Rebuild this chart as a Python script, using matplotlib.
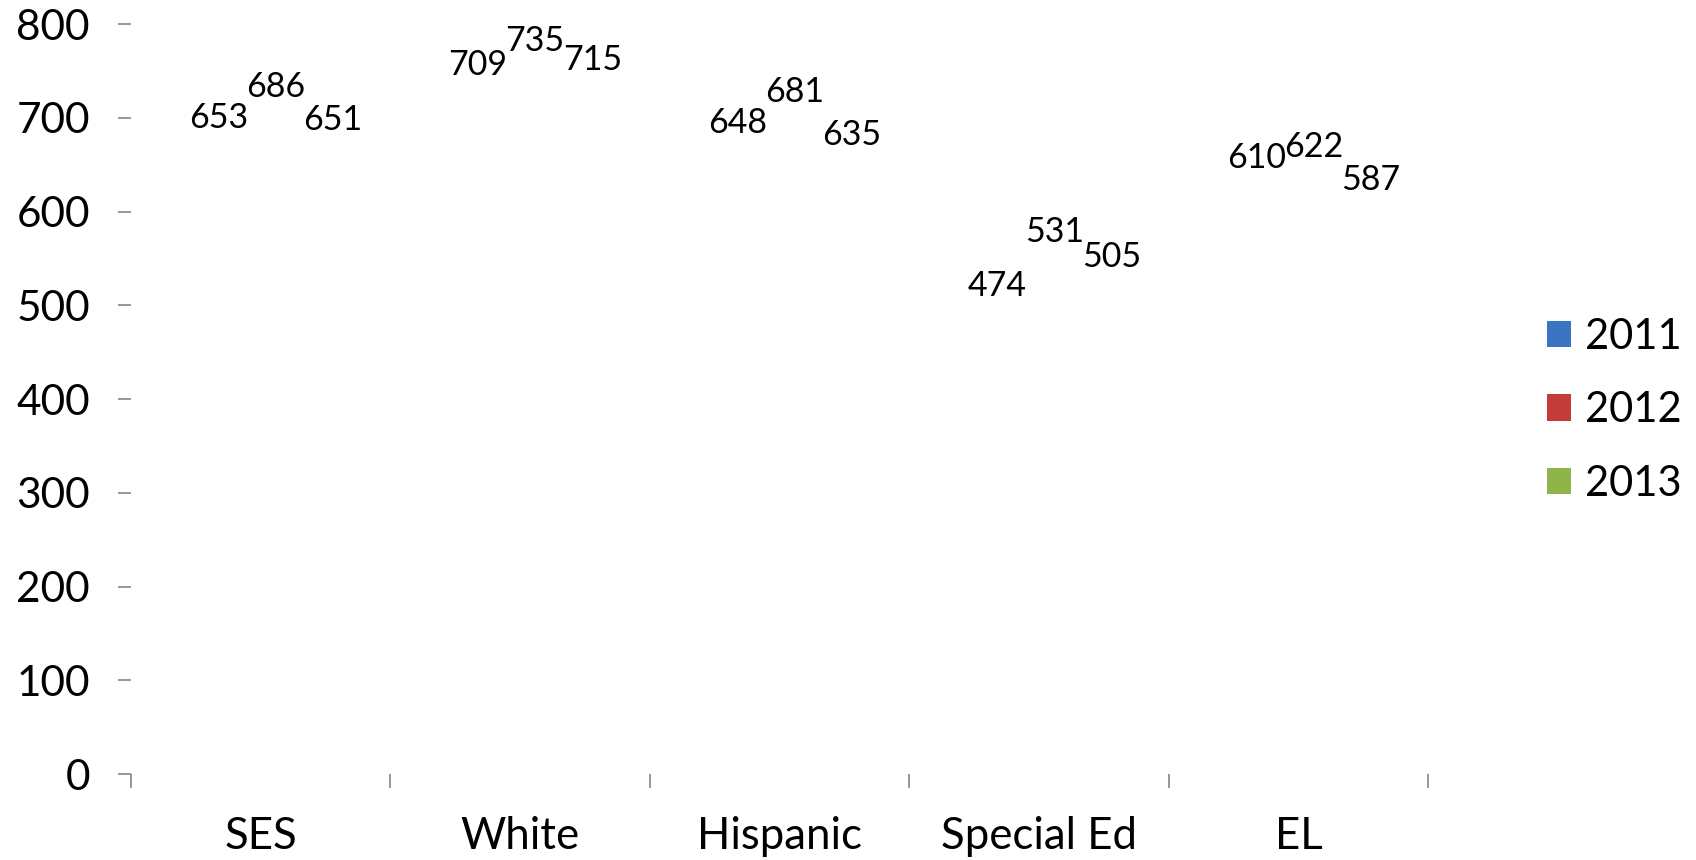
import matplotlib.pyplot as plt
import numpy as np
from matplotlib.patches import Patch

plt.rcParams['font.family'] = ['Lato', 'DejaVu Sans']

categories = ['SES', 'White', 'Hispanic', 'Special Ed', 'EL']
years = ['2011', '2012', '2013']
scores_2011 = [653, 709, 648, 474, 610]
scores_2012 = [686, 735, 681, 531, 622]
scores_2013 = [651, 715, 635, 505, 587]
colors = ['#3a75c2', '#c43c3a', '#8eb44a']

fig = plt.figure(figsize=(16.96, 8.6), dpi=100)
ax = fig.add_axes([0.0772, 0.1, 0.765, 0.872])

x = np.arange(len(categories))
width = 0.22
for j, (vals, col) in enumerate(zip([scores_2011, scores_2012, scores_2013], colors)):
    pos = x + (j - 1) * width
    bars = ax.bar(pos, vals, width, color=col)
    for b in bars:
        b.set_visible(False)
    for p, v in zip(pos, vals):
        ax.annotate(str(v), xy=(p, v), xytext=(15, 44), textcoords='offset pixels',
                    ha='center', va='center', fontsize=24.5)

ax.set_xlim(-0.5, len(categories) - 0.5)
ax.set_ylim(0, 800)
ax.set_yticks(range(0, 801, 100))
ax.set_xticks(x)
ax.set_xticklabels(categories)
ax.set_xticks(np.arange(-0.5, len(categories), 1.0), minor=True)

for s in ax.spines.values():
    s.set_visible(False)

ax.tick_params(axis='y', length=9.5, width=1.2, color='#868686', labelsize=30.5, pad=20)
ax.tick_params(axis='x', which='major', length=0, labelsize=31.5, pad=30)
ax.tick_params(axis='x', which='minor', length=10, width=1.2, color='#868686')

handles = [Patch(facecolor=c, label=y) for c, y in zip(colors, years)]
fig.legend(handles=handles, loc='center left', bbox_to_anchor=(0.912, 0.523),
           frameon=False, fontsize=30, handlelength=0.58, handleheight=0.6,
           handletextpad=0.33, labelspacing=0.85, borderaxespad=0, borderpad=0)

plt.savefig('out.png', dpi=100)
